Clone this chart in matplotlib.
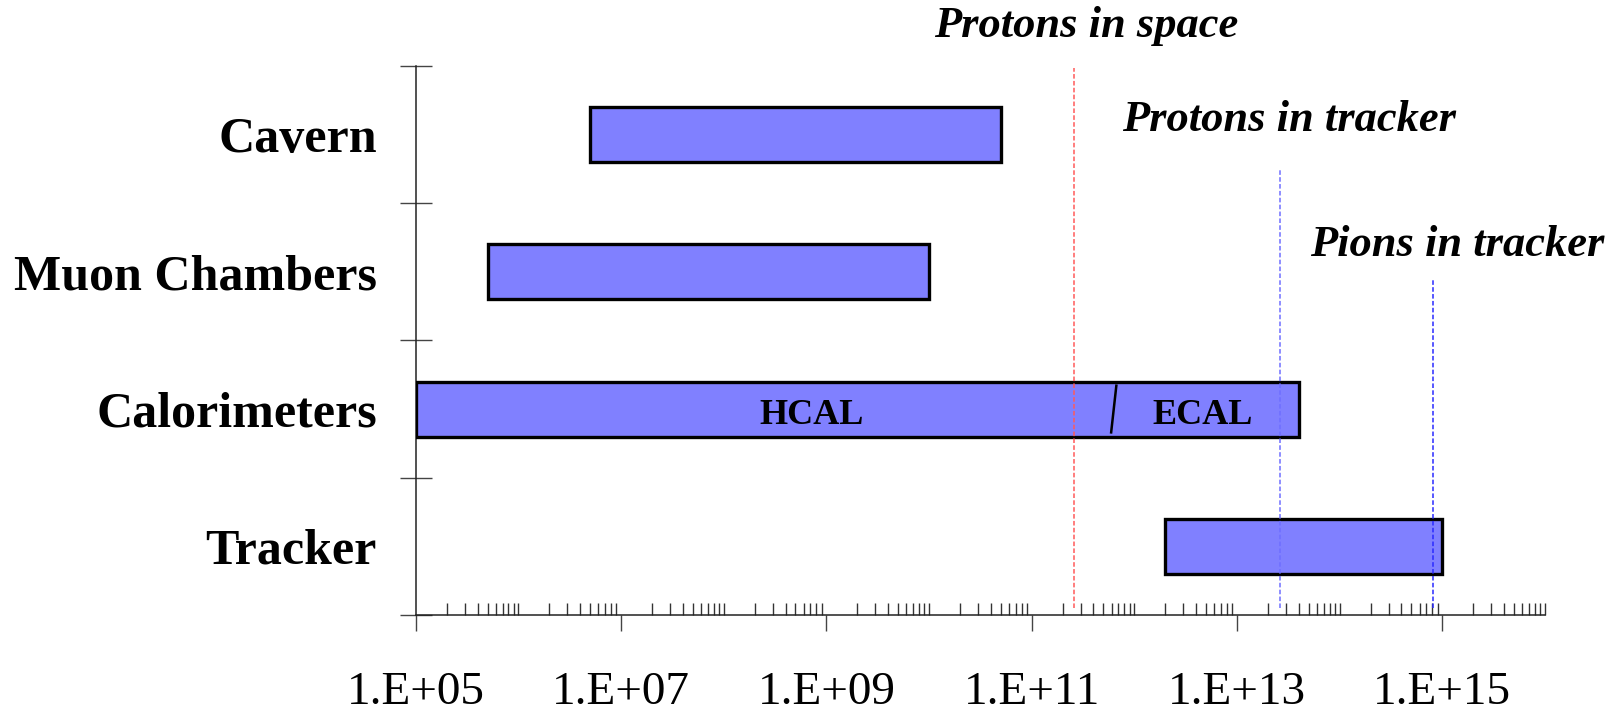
import matplotlib
matplotlib.use("Agg")
import matplotlib.pyplot as plt
from matplotlib.ticker import LogLocator, FixedLocator, NullFormatter, FixedFormatter
from matplotlib.patches import Rectangle

# Detector regions and their ranges (lower, upper bound on the log axis)
regions = ["Tracker", "Calorimeters", "Muon Chambers", "Cavern"]
range_low = [2e12, 1e5, 5e5, 5e6]
range_high = [1e15, 4e13, 1e10, 5e10]

# HCAL / ECAL split inside the calorimeter band
calo_split = 6.3e11

# Reference lines
ref_names = ["Protons in space", "Protons in tracker", "Pions in tracker"]
ref_values = [2.6e11, 2.6e13, 8.1e14]
ref_colors = ["#ff5a5a", "#6f6fff", "#2a2aff"]

major_ticks = [1e5, 1e7, 1e9, 1e11, 1e13, 1e15]
major_labels = ["1.E+05", "1.E+07", "1.E+09", "1.E+11", "1.E+13", "1.E+15"]

plt.rcParams["font.family"] = ["Liberation Serif", "DejaVu Serif"]

fig = plt.figure(figsize=(16.09, 7.12), dpi=100)
ax = fig.add_axes([0.2584, 0.1362, 0.9602 - 0.2584, 0.9077 - 0.1362])

ax.set_xscale("log")
ax.set_xlim(1e5, 1e16)
ax.set_ylim(0, 4)

bar_h = 0.4
for i, (lo, hi) in enumerate(zip(range_low, range_high)):
    ax.add_patch(Rectangle((lo, i + 0.5 - bar_h / 2), hi - lo, bar_h,
                           facecolor="#8080ff", edgecolor="black",
                           linewidth=2.4, zorder=3))

# slanted divider between HCAL and ECAL
ax.plot([calo_split * 1.06, calo_split / 1.06], [1.67, 1.33],
        color="black", lw=1.8, zorder=4)
ax.text(10 ** 8.86, 1.45, "HCAL", ha="center", va="center",
        fontsize=26, fontweight="bold", zorder=5)
ax.text(10 ** 12.67, 1.45, "ECAL", ha="center", va="center",
        fontsize=26, fontweight="bold", zorder=5)

# vertical reference lines
tops = [0.995, 0.814, 0.614]
for v, c, t in zip(ref_values, ref_colors, tops):
    ax.axvline(v, ymin=0.012, ymax=t, color=c, lw=1.1,
               linestyle=(0, (3, 1.5)), zorder=4)

fig.text(1086.5 / 1609, 1 - 25.6 / 712, ref_names[0], ha="center", va="center",
         fontsize=32, fontweight="bold", fontstyle="italic")
fig.text(1289 / 1609, 1 - 120 / 712, ref_names[1], ha="center", va="center",
         fontsize=32, fontweight="bold", fontstyle="italic")
fig.text(1457 / 1609, 1 - 245 / 712, ref_names[2], ha="center", va="center",
         fontsize=32, fontweight="bold", fontstyle="italic")

# spines
for s in ["top", "right"]:
    ax.spines[s].set_visible(False)
ax.spines["left"].set_linewidth(1.1)
ax.spines["bottom"].set_linewidth(1.1)
ax.spines["left"].set_color("#222222")
ax.spines["bottom"].set_color("#222222")

# x ticks
ax.xaxis.set_major_locator(FixedLocator(major_ticks))
ax.xaxis.set_major_formatter(FixedFormatter(major_labels))
ax.xaxis.set_minor_locator(LogLocator(base=10, subs=range(1, 10), numticks=100))
ax.xaxis.set_minor_formatter(NullFormatter())
ax.tick_params(axis="x", which="major", direction="out", length=11.5,
               width=1.0, color="#444444", labelsize=34, pad=29)
ax.tick_params(axis="x", which="minor", direction="in", length=8.5,
               width=1.0, color="#333333")

# y ticks: boundaries as ticks, names centred in bands
ax.yaxis.set_major_locator(FixedLocator([0, 1, 2, 3, 4]))
ax.yaxis.set_major_formatter(NullFormatter())
ax.yaxis.set_minor_locator(FixedLocator([0.5, 1.5, 2.5, 3.5]))
ax.yaxis.set_minor_formatter(FixedFormatter(regions))
ax.tick_params(axis="y", which="major", direction="inout", length=23,
               width=1.0, color="#444444")
ax.tick_params(axis="y", which="minor", length=0, labelsize=36, pad=28)
for lbl in ax.get_yticklabels(minor=True):
    lbl.set_fontweight("bold")

fig.savefig("out.png", dpi=100)
